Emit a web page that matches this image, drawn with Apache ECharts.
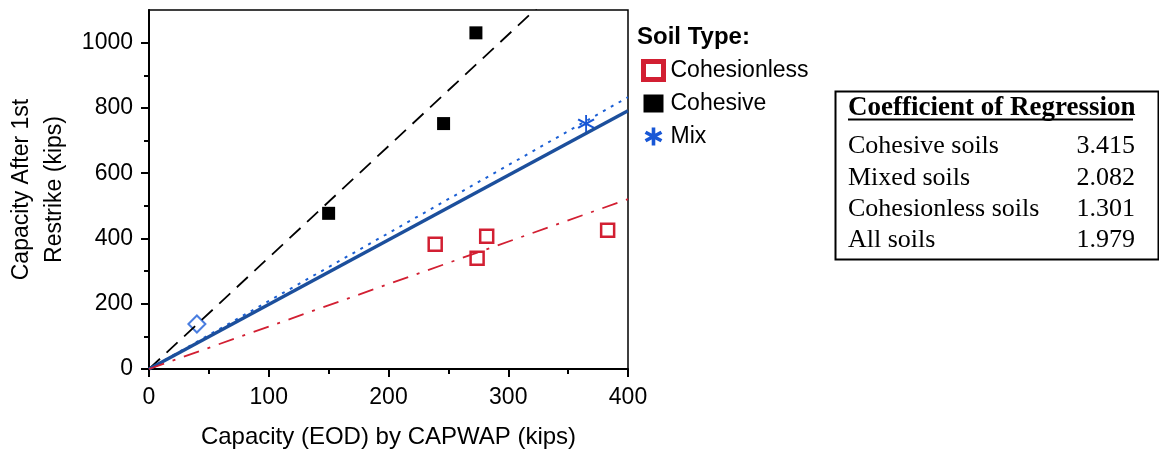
<!DOCTYPE html>
<html><head><meta charset="utf-8">
<script src="https://cdn.jsdelivr.net/npm/echarts@6/dist/echarts.min.js"></script>
<style>html,body{margin:0;padding:0;background:#fff}#c{width:1159px;height:449px}</style>
</head><body><div id="c"></div>
<script>
// ---- data ----
const cohesionless = [[239, 382], [282, 407], [274, 339], [383, 425]];
const cohesive = [[150, 477], [246, 752], [273, 1030]];
const mixStar = [[365, 752]];
const mixDiamond = [[40, 138]];
const yTicks = [0, 200, 400, 600, 800, 1000];
const regLabels = ['Cohesive soils', 'Mixed soils', 'Cohesionless soils', 'All soils'];
const regValues = ['3.415', '2.082', '1.301', '1.979'];
const slopeCohesive = 3.415, slopeMixed = 2.082, slopeCohesionless = 1.301, slopeAll = 1.979;
const xEnd = 400;

const star = 'path://M9 0L11 0L11 20L9 20Z M0.74 6.04L1.94 3.96L19.26 13.96L18.06 16.04Z M1.94 16.04L0.74 13.96L18.06 3.96L19.26 6.04Z';
const starBold = 'path://M8 0L12 0L12 20L8 20Z M0.14 7.08L2.14 3.62L19.86 12.92L17.86 16.38Z M2.14 16.38L0.14 12.92L17.86 3.62L19.86 7.08Z';
const F = 'Liberation Sans, Arial, sans-serif';
const S = 'Liberation Serif, Times New Roman, serif';

const chart = echarts.init(document.getElementById('c'), null, {renderer: 'canvas'});
const rows = regLabels.map((l, i) => [
  {type: 'text', left: 848, top: 133.5 + i * 31.3, style: {text: l, font: '26px ' + S, fill: '#000'}},
  {type: 'text', right: 24, top: 133.5 + i * 31.3, style: {text: regValues[i], font: '26px ' + S, fill: '#000'}}
]).flat();

chart.setOption({
  animation: false,
  grid: {left: 149, top: 10, right: 531, bottom: 80, show: true, borderColor: '#000', borderWidth: 1.5,
    containLabel: false, outerBoundsMode: 'none'},
  xAxis: {
    type: 'value', min: 0, max: 400, interval: 100,
    name: 'Capacity (EOD) by CAPWAP (kips)', nameLocation: 'middle', nameGap: 56,
    nameTextStyle: {fontFamily: F, fontSize: 24, color: '#000'},
    axisLine: {lineStyle: {color: '#000', width: 2}},
    axisTick: {length: 8, lineStyle: {color: '#000', width: 2}},
    minorTick: {show: true, splitNumber: 2, length: 5, lineStyle: {color: '#000', width: 2}},
    axisLabel: {fontFamily: F, fontSize: 23, color: '#000', margin: 17},
    splitLine: {show: false}
  },
  yAxis: {
    type: 'value', min: 0, max: 1100, interval: 200,
    name: 'Capacity After 1st\nRestrike (kips)', nameLocation: 'middle', nameGap: 78,
    nameTextStyle: {fontFamily: F, fontSize: 23, color: '#000', lineHeight: 33},
    axisLine: {lineStyle: {color: '#000', width: 2}},
    axisTick: {length: 8, lineStyle: {color: '#000', width: 2}, customValues: yTicks},
    minorTick: {show: true, splitNumber: 2, length: 5, lineStyle: {color: '#000', width: 2}},
    axisLabel: {fontFamily: F, fontSize: 23, color: '#000', margin: 16, customValues: yTicks,
      formatter: v => String(v)},
    splitLine: {show: false}
  },
  legend: {
    orient: 'vertical', left: 636, top: 54, itemWidth: 20, itemHeight: 18, itemGap: 10,
    textStyle: {fontFamily: F, fontSize: 23, color: '#000', padding: [0, 0, 0, 2]},
    data: [
      {name: 'Cohesionless', icon: 'rect', itemStyle: {color: '#fff', borderColor: '#d21f32', borderWidth: 5, opacity: 1}},
      {name: 'Cohesive', icon: 'rect', itemStyle: {color: '#000', opacity: 1}},
      {name: 'Mix', icon: starBold, itemStyle: {color: '#1857d6', borderWidth: 0, opacity: 1}}
    ]
  },
  graphic: [
    {type: 'text', left: 637, top: 25, style: {text: 'Soil Type:', font: 'bold 24px ' + F, fill: '#000'}},
    {type: 'rect', left: 833, top: 89, shape: {width: 323, height: 168}, style: {fill: 'none', stroke: '#000', lineWidth: 2}},
    {type: 'text', left: 848, top: 95, style: {text: 'Coefficient of Regression', font: 'bold 27px ' + S, fill: '#000'}},
    {type: 'line', shape: {x1: 848, y1: 119.5, x2: 1133, y2: 119.5}, style: {stroke: '#000', lineWidth: 2}},
    ...rows
  ],
  series: [
    {name: 'CohesiveLine', type: 'line', data: [[0, 0], [xEnd, xEnd * slopeCohesive]], symbol: 'none', silent: true,
      lineStyle: {color: '#000', width: 1.8, type: [15, 9]}},
    {name: 'MixLine', type: 'line', data: [[0, 0], [xEnd, xEnd * slopeMixed]], symbol: 'none', silent: true,
      lineStyle: {color: '#1b5fd4', width: 2, type: [3, 6]}},
    {name: 'AllLine', type: 'line', data: [[0, 0], [xEnd, xEnd * slopeAll]], symbol: 'none', silent: true,
      lineStyle: {color: '#1c4f9c', width: 3.4}},
    {name: 'CohesionlessLine', type: 'line', data: [[0, 0], [xEnd, xEnd * slopeCohesionless]], symbol: 'none', silent: true,
      lineStyle: {color: '#d21f32', width: 1.8, type: [16, 9, 3, 9]}},
    {name: 'Cohesionless', type: 'scatter', data: cohesionless, symbol: 'rect', symbolSize: 13,
      itemStyle: {color: '#fff', borderColor: '#d21f32', borderWidth: 2.5, opacity: 1}},
    {name: 'Cohesive', type: 'scatter', data: cohesive, symbol: 'rect', symbolSize: 13,
      itemStyle: {color: '#000', opacity: 1}},
    {name: 'Mix', type: 'scatter', data: mixStar, symbol: star, symbolSize: 17,
      itemStyle: {color: '#1857d6', opacity: 1}},
    {name: 'MixDiamond', type: 'scatter', data: mixDiamond, symbol: 'diamond', symbolSize: 17,
      itemStyle: {color: '#fff', borderColor: '#4a7ee0', borderWidth: 2, opacity: 1}}
  ]
});
</script></body></html>
